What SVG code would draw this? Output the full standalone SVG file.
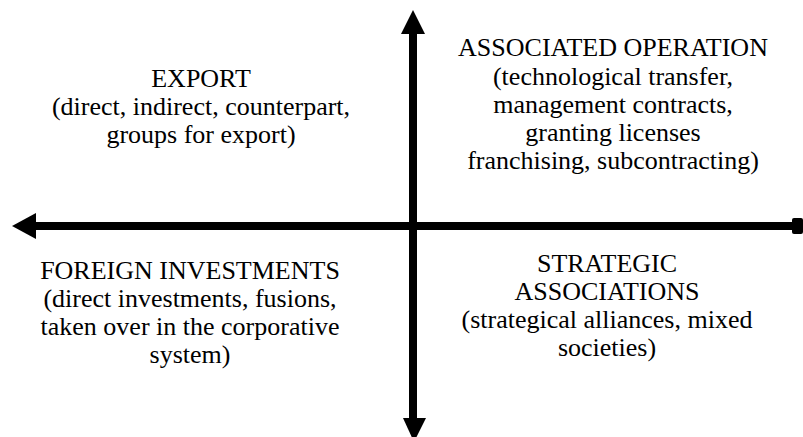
<svg xmlns="http://www.w3.org/2000/svg" width="803" height="437" viewBox="0 0 803 437">
<style>
text{font-family:'Times New Roman','Liberation Serif',serif;font-size:26px;fill:#000;text-anchor:middle}
.ax{stroke:#000;stroke-width:8;fill:none}
.hd{fill:#000}
</style>
<rect width="803" height="437" fill="#fff"/>
<g id="connectors">
<line class="ax" x1="33" y1="226" x2="795" y2="226"/>
<polygon class="hd" points="12,226 36,213 36,239"/>
<rect class="hd" x="792" y="218" width="11" height="16" rx="2"/>
<line class="ax" x1="413" y1="31" x2="413" y2="420"/>
<polygon class="hd" points="413,10 401,34 425,34"/>
<polygon class="hd" points="414,442 403,418 426,418"/>
</g>
<g id="export">
<text x="201" y="87">EXPORT</text>
<text x="201" y="115">(direct, indirect, counterpart,</text>
<text x="201" y="143">groups for export)</text>
</g>
<g id="associated">
<text x="613" y="56">ASSOCIATED OPERATION</text>
<text x="613" y="85">(technological transfer,</text>
<text x="613" y="113">management contracts,</text>
<text x="613" y="141">granting licenses</text>
<text x="613" y="169">franchising, subcontracting)</text>
</g>
<g id="foreign">
<text x="190" y="279">FOREIGN INVESTMENTS</text>
<text x="190" y="307">(direct investments, fusions,</text>
<text x="190" y="335">taken over in the corporative</text>
<text x="190" y="363">system)</text>
</g>
<g id="strategic">
<text x="607" y="272">STRATEGIC</text>
<text x="607" y="300">ASSOCIATIONS</text>
<text x="607" y="328">(strategical alliances, mixed</text>
<text x="607" y="356">societies)</text>
</g>
</svg>
